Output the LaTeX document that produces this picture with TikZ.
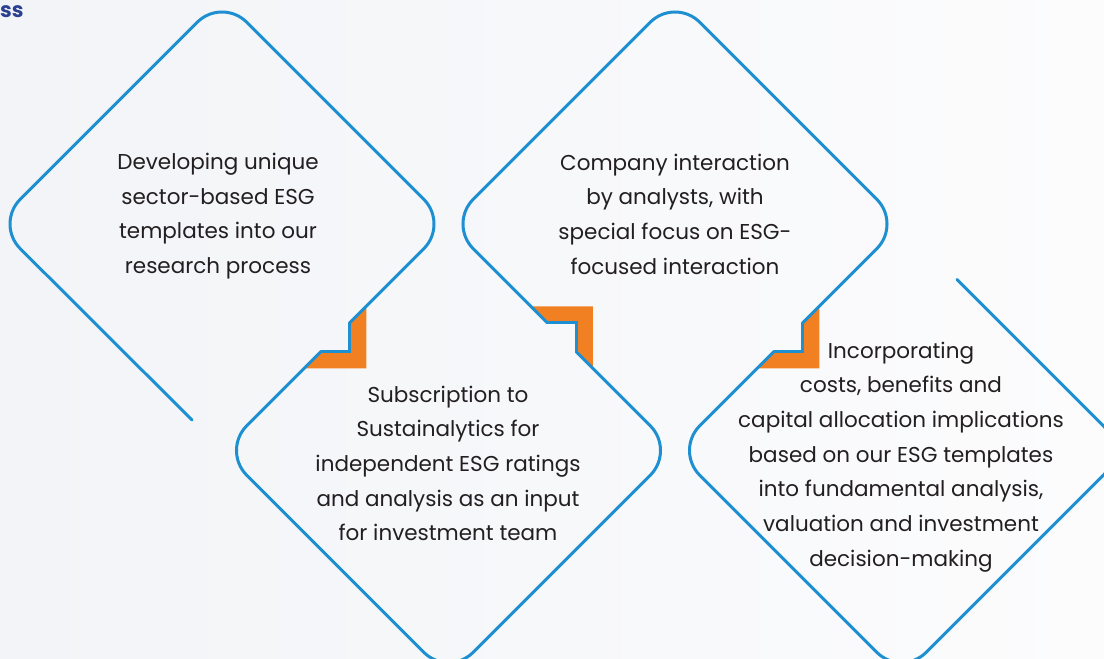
\documentclass[tikz,border=0pt]{standalone}
\usepackage{fontspec}
\setmainfont{Poppins}
\usetikzlibrary{positioning}

\definecolor{esgblue}{RGB}{30,144,210}
\definecolor{esgorange}{RGB}{240,128,34}
\definecolor{esgtext}{RGB}{35,31,32}
\definecolor{esgnavy}{RGB}{42,64,145}
\definecolor{bgleft}{RGB}{242,244,247}
\definecolor{bgright}{RGB}{252,252,253}

\tikzstyle{diamond line} = [draw=esgblue,line width=3pt,line cap=round,rounded corners=35pt]
\tikzstyle{step line} = [draw=esgblue,line width=3pt,line cap=round,line join=miter]
\tikzstyle{step fill} = [fill=esgorange]
\tikzstyle{step text} = [align=center,text=esgtext,font=\fontsize{21.5}{34.7}\selectfont]
\tikzstyle{heading} = [text=esgnavy,inner sep=0pt,font=\fontsize{21}{24}\selectfont\bfseries]

\begin{document}
\begin{tikzpicture}[x=1pt,y=-1pt]
     % Frame and background
     \useasboundingbox (0,0) rectangle (1104,659);
     \clip (0,0) rectangle (1104,659);
     \shade[left color=bgleft,right color=bgright] (0,0) rectangle (1104,659);

     % First we place the corners of the four diamonds
     \foreach \n/\x/\y in {1/222/224, 2/448.5/450.5, 3/675/224, 4/901.5/450.5}
     {
       \coordinate (c\n) at (\x,\y);
       \coordinate (l\n) at (\x-226.5,\y);
       \coordinate (t\n) at (\x,\y-226.5);
       \coordinate (r\n) at (\x+226.5,\y);
       \coordinate (b\n) at (\x,\y+226.5);
     }
     \coordinate (s1) at (192,420);
     \coordinate (e4) at (957,279.5);

     % Orange tabs and the steps on the shared edges
     \foreach \n/\x/\y/\s in {1/335.25/337.25/1, 2/561.75/337.25/-1, 3/788.25/337.25/1}
     {
       \fill[step fill] (\x+31,\y-31*\s) -- (\x+31,\y+31*\s) -- (\x-31,\y+31*\s)
         -- (\x-14.5,\y+14.5*\s) -- (\x+14.5,\y+14.5*\s) -- (\x+14.5,\y-14.5*\s) -- cycle;
       \coordinate (n\n) at (\x+14.5,\y-14.5*\s);
       \coordinate (k\n) at (\x+14.5,\y+14.5*\s);
       \coordinate (o\n) at (\x-14.5,\y+14.5*\s);
       \path[step line] (n\n) -- (k\n) -- (o\n);
     }

     % Connect the corners, one diamond after the other
     \path[diamond line] (s1) -- (l1) -- (t1) -- (r1) -- (n1);
     \path[diamond line] (o1) -- (l2) -- (b2) -- (r2) -- (n2);
     \path[diamond line] (o2) -- (l3) -- (t3) -- (r3) -- (n3);
     \path[diamond line] (o3) -- (l4) -- (b4) -- (r4) -- (e4);

     % Texts
     \node[heading,anchor=base west] (title) at (0,17) {ss};
     \node[step text] (developing) at (218,216) {Developing unique\\sector-based ESG\\templates into our\\research process};
     \node[step text] (company) at (675,214) {Company interaction\\by analysts, with\\special focus on ESG-\\focused interaction};
     \node[step text] (subscription) at (448,463.5) {Subscription to\\Sustainalytics for\\independent ESG ratings\\and analysis as an input\\for investment team};
     \node[step text] (incorporating) at (901,457) {Incorporating\\costs, benefits and\\capital allocation implications\\based on our ESG templates\\into fundamental analysis,\\valuation and investment\\decision-making};
\end{tikzpicture}
\end{document}
